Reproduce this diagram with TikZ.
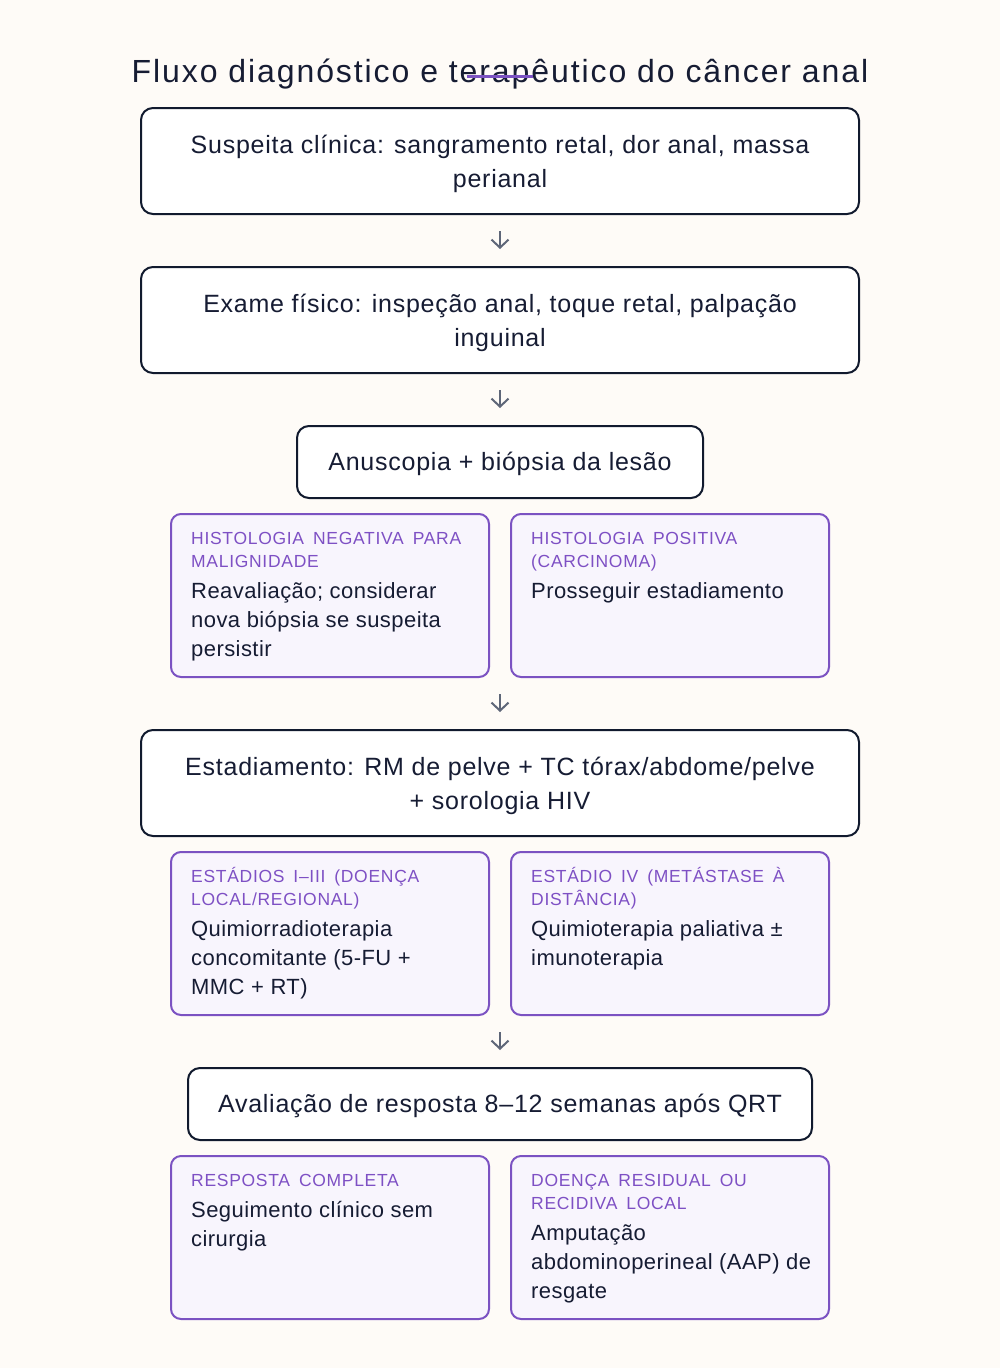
\documentclass[tikz,border=0pt]{standalone}
\usepackage{fontspec}
\setmainfont{Liberation Sans}
\newfontfamily\titlefont[LetterSpace=6]{Liberation Sans}
\newfontfamily\mainfont[LetterSpace=3]{Liberation Sans}
\newfontfamily\bodyfont[LetterSpace=2]{Liberation Sans}
\newfontfamily\labelfont[LetterSpace=4,WordSpace=1.6]{Liberation Sans}
\usetikzlibrary{arrows.meta,calc}
\definecolor{bgc}{HTML}{FEFBF7}
\definecolor{navy}{HTML}{111A2E}
\definecolor{txt}{HTML}{161C33}
\definecolor{purp}{HTML}{7B52C2}
\definecolor{lab}{HTML}{7E50C4}
\definecolor{subfill}{HTML}{F8F5FD}
\definecolor{arr}{HTML}{5E6678}
\newcommand\topstrut[1]{\rule{0pt}{#1}}
\newcommand\botstrut{\rule[-8pt]{0pt}{8pt}}
\tikzset{
  mainbox/.style={draw=navy,line width=2pt,rounded corners=12pt,fill=white,inner sep=0pt,align=center,text=txt,font=\mainfont\fontsize{25}{34}\selectfont},
  subbox/.style={draw=purp,line width=2pt,rounded corners=10pt,fill=subfill,inner sep=0pt,minimum width=318pt,minimum height=163pt},
  labtxt/.style={anchor=north west,inner sep=0pt,align=left,text=lab,font=\labelfont\fontsize{17.5}{23}\selectfont},
  bodytxt/.style={anchor=north west,inner sep=0pt,align=left,text=txt,font=\bodyfont\fontsize{22}{29}\selectfont},
  flow/.style={draw=arr,line width=2pt,-{Straight Barb[length=8pt,width=17pt,line width=2pt]},shorten <=16pt,shorten >=17pt}
}
\begin{document}
\begin{tikzpicture}[x=1pt,y=-1pt]
\fill[bgc] (0,0) rectangle (1000,1368);
\useasboundingbox (0,0) rectangle (1000,1368);
% title
\node[text=txt,font=\titlefont\fontsize{32}{36}\selectfont,inner sep=0pt,anchor=base] (title) at (500,82) {Fluxo diagnóstico e terapêutico do câncer anal};
\draw[purp,line width=3pt] (467,76) -- (533,76);
% main boxes
\node[mainbox,minimum width=718pt,minimum height=106pt] (b1) at (500,161) {\topstrut{26pt}Suspeita clínica: sangramento retal, dor anal, massa\\perianal\botstrut};
\node[mainbox,minimum width=718pt,minimum height=106pt] (b2) at (500,320) {\topstrut{26pt}Exame físico: inspeção anal, toque retal, palpação\\inguinal\botstrut};
\node[mainbox,minimum width=406pt,minimum height=72pt] (b3) at (500,462) {\topstrut{24pt}Anuscopia + biópsia da lesão\botstrut};
% sub row 1
\node[subbox] (h1) at (330,595.5) {};
\node[subbox] (h2) at (670,595.5) {};
\node[labtxt] (h1l) at ($(h1.north west)+(21,11)$) {\topstrut{20pt}HISTOLOGIA NEGATIVA PARA\\MALIGNIDADE};
\node[bodytxt] (h1b) at ($(h1.north west)+(21,63)$) {\topstrut{22pt}Reavaliação; considerar\\nova biópsia se suspeita\\persistir};
\node[labtxt] (h2l) at ($(h2.north west)+(21,11)$) {\topstrut{20pt}HISTOLOGIA POSITIVA\\(CARCINOMA)};
\node[bodytxt] (h2b) at ($(h2.north west)+(21,63)$) {\topstrut{22pt}Prosseguir estadiamento};
\coordinate (r1) at ($(h1.south east)!0.5!(h2.south west)$);
% box 4
\node[mainbox,minimum width=718pt,minimum height=106pt] (b4) at (500,783) {\topstrut{26pt}Estadiamento: RM de pelve + TC tórax/abdome/pelve\\+ sorologia HIV\botstrut};
\node[subbox] (e1) at (330,933.5) {};
\node[subbox] (e2) at (670,933.5) {};
\node[labtxt] (e1l) at ($(e1.north west)+(21,11)$) {\topstrut{20pt}ESTÁDIOS I–III (DOENÇA\\LOCAL/REGIONAL)};
\node[bodytxt] (e1b) at ($(e1.north west)+(21,63)$) {\topstrut{22pt}Quimiorradioterapia\\concomitante (5-FU +\\MMC + RT)};
\node[labtxt] (e2l) at ($(e2.north west)+(21,11)$) {\topstrut{20pt}ESTÁDIO IV (METÁSTASE À\\DISTÂNCIA)};
\node[bodytxt] (e2b) at ($(e2.north west)+(21,63)$) {\topstrut{22pt}Quimioterapia paliativa ±\\imunoterapia};
\coordinate (r2) at ($(e1.south east)!0.5!(e2.south west)$);
% box 5
\node[mainbox,minimum width=624pt,minimum height=72pt] (b5) at (500,1104) {\topstrut{24pt}Avaliação de resposta 8–12 semanas após QRT\botstrut};
\node[subbox] (f1) at (330,1237.5) {};
\node[subbox] (f2) at (670,1237.5) {};
\node[labtxt] (f1l) at ($(f1.north west)+(21,11)$) {\topstrut{20pt}RESPOSTA COMPLETA};
\node[bodytxt] (f1b) at ($(f1.north west)+(21,40)$) {\topstrut{22pt}Seguimento clínico sem\\cirurgia};
\node[labtxt] (f2l) at ($(f2.north west)+(21,11)$) {\topstrut{20pt}DOENÇA RESIDUAL OU\\RECIDIVA LOCAL};
\node[bodytxt] (f2b) at ($(f2.north west)+(21,63)$) {\topstrut{22pt}Amputação\\abdominoperineal (AAP) de\\resgate};
% arrows
\draw[flow] (b1.south) -- (b2.north);
\draw[flow] (b2.south) -- (b3.north);
\draw[flow] (r1) -- (b4.north);
\draw[flow] (r2) -- (b5.north);
\end{tikzpicture}
\end{document}
